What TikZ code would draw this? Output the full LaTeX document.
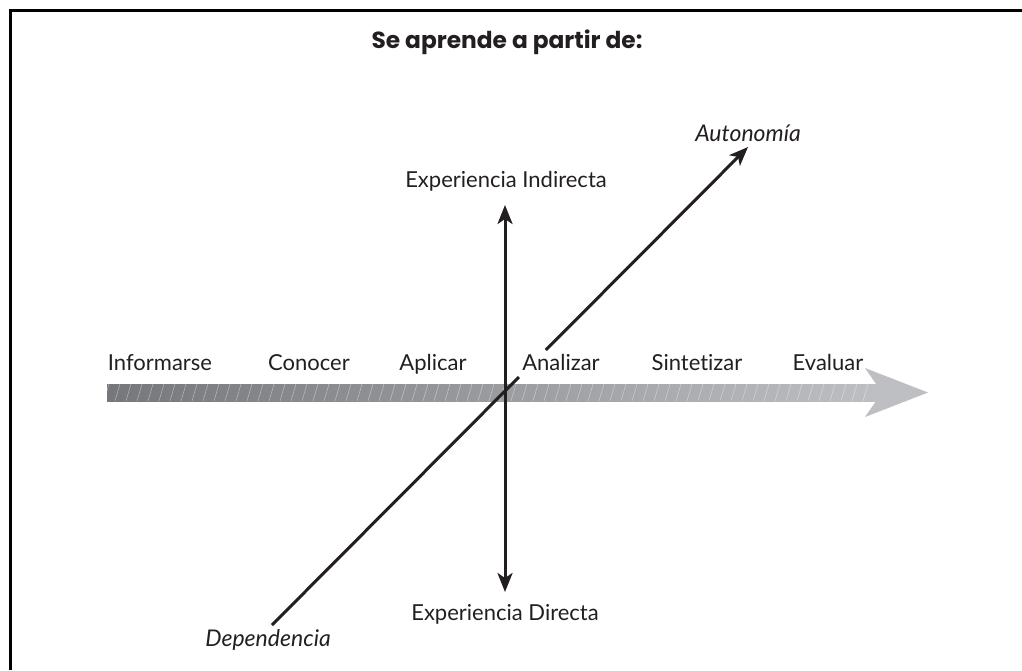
\documentclass[tikz,border=0pt]{standalone}
\usepackage{fontspec}
\setmainfont{Lato}[Ligatures=NoCommon]
\newfontfamily\titlefont{Poppins}
\usetikzlibrary{arrows.meta,calc}
\definecolor{bardark}{RGB}{118,119,123}
\definecolor{barlight}{RGB}{190,191,195}
\definecolor{txt}{RGB}{35,31,32}
\tikzset{
  lbl/.style={anchor=base, text=txt, font=\fontsize{22}{25}\selectfont, inner sep=0pt},
  itl/.style={lbl, font=\fontsize{23}{26}\selectfont\itshape},
  ttl/.style={lbl, font=\titlefont\fontsize{23.3}{26}\selectfont\bfseries},
  axis/.style={line width=3pt, draw=txt},
}
\begin{document}
\begin{tikzpicture}[x=1pt,y=-1pt]
\useasboundingbox (0,0) rectangle (1022,670);
% frame (top and left edges)
\draw[line width=2.6pt, draw=black] (10.3,670) -- (10.3,10.3) -- (1022,10.3);
% title
\node[ttl] (title) at (507,48) {Se aprende a partir de:};
% gradient bar with arrow head
\shade[left color=bardark, right color=barlight] (107,384) rectangle (878,401);
\fill[barlight] (876,384) -- (865,368) -- (928,392.5) -- (865,417) -- (876,401) -- cycle;
\begin{scope}
  \clip (107,384) rectangle (874,401);
  \foreach \i in {0,...,72}
    \draw[white, opacity=0.45, line width=0.5pt] (104+\i*11,401) -- (109+\i*11,384);
\end{scope}
% vertical double arrow
\coordinate (vtop) at (505,205);
\coordinate (vbot) at (505,592);
\draw[axis, {Stealth[length=19pt,width=15pt,inset=5pt]}-{Stealth[length=19pt,width=15pt,inset=5pt]}] (vbot) -- (vtop);
% diagonal arrow
\coordinate (dlow) at (272,625);
\coordinate (dtop) at (748,147);
\draw[axis, -{Stealth[length=19pt,width=15pt,inset=5pt]}] (dlow) -- (dtop);
\draw[white, line width=6pt] ($(dlow)!0.519!(dtop)$) -- ($(dlow)!0.575!(dtop)$);
% stage labels
\node[lbl] (inf) at (160,370) {Informarse};
\node[lbl] (con) at (309,370) {Conocer};
\node[lbl] (apl) at (433,370) {Aplicar};
\node[lbl] (ana) at (561,370) {Analizar};
\node[lbl] (sin) at (697,370) {Sintetizar};
\node[lbl] (eva) at (828,370) {Evaluar};
% axis labels
\node[lbl] (ei) at (506,187) {Experiencia Indirecta};
\node[lbl] (ed) at (505,620) {Experiencia Directa};
\node[itl] (aut) at (748,141) {Autonomía};
\node[itl] (dep) at (268,646) {Dependencia};
\end{tikzpicture}
\end{document}
